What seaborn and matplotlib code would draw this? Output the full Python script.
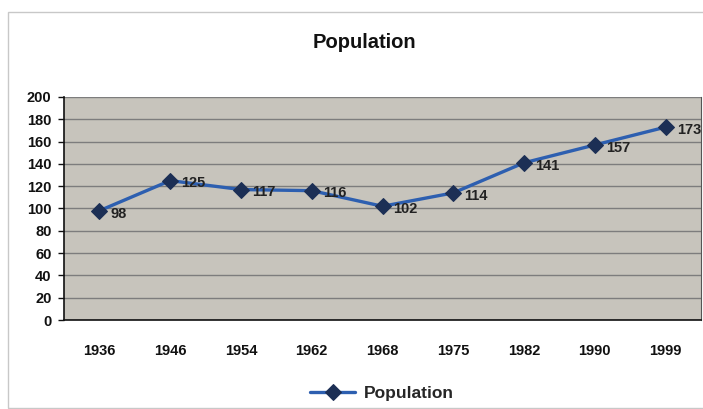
import matplotlib
matplotlib.use("Agg")
import matplotlib.pyplot as plt
import seaborn as sns
import pandas as pd
from matplotlib.patches import Rectangle

years = ["1936", "1946", "1954", "1962", "1968", "1975", "1982", "1990", "1999"]
population = [98, 125, 117, 116, 102, 114, 141, 157, 173]

sns.set_style("white")
plt.rcParams['font.family'] = ['Liberation Sans', 'DejaVu Sans']

df = pd.DataFrame({"Year": years, "Population": population})

fig = plt.figure(figsize=(7.03, 4.09), dpi=100)
fig.patches.append(Rectangle((8 / 703, 1 / 409), 1.2, 396 / 409, transform=fig.transFigure,
                             fill=False, edgecolor="#c8c8c8", linewidth=1.0))
ax = fig.add_axes([64 / 703, 1 - 320 / 409, 637 / 703, 223 / 409])
ax.set_facecolor("#c7c4bc")

sns.lineplot(data=df, x="Year", y="Population", ax=ax, color="#2d5fb0", linewidth=2.4,
             marker="D", markersize=8, markerfacecolor="#1c2f55", markeredgecolor="#1c2f55",
             label="Population")

for i, v in enumerate(population):
    ax.annotate(str(v), (i, v), xytext=(8, -2), textcoords="offset points",
                ha="left", va="center", fontsize=10.5, fontweight="bold", color="#222222")

ax.set_xlim(-0.5, len(years) - 0.5)
ax.set_ylim(0, 200)
ax.set_yticks(range(0, 201, 20))
ax.yaxis.grid(True, color="#7d7d7d", linewidth=1.0)
ax.set_axisbelow(True)
ax.set_xlabel("")
ax.set_ylabel("")
ax.tick_params(axis="both", labelsize=10.5, colors="#111111")
for lab in ax.get_xticklabels() + ax.get_yticklabels():
    lab.set_fontweight("bold")
ax.tick_params(axis="x", pad=17, length=0)
ax.tick_params(axis="y", left=True, length=4, width=1, pad=5)
ax.spines["top"].set_visible(False)
ax.spines["right"].set_color("#555555")
ax.spines["left"].set_color("#111111")
ax.spines["bottom"].set_color("#111111")
ax.spines["left"].set_linewidth(1.2)
ax.spines["bottom"].set_linewidth(1.2)

fig.text(364 / 703, 1 - 42 / 409, "Population", fontsize=14.5, fontweight="bold",
         ha="center", va="center", color="#111111")

ax.legend_.remove()
handles, labels = ax.get_legend_handles_labels()
fig.legend(handles, labels, loc="center", bbox_to_anchor=(382 / 703, 1 - 393 / 409),
           frameon=False, prop={"weight": "bold", "size": 12.5}, handlelength=2.6,
           handletextpad=0.5)

fig.savefig("out.png", dpi=100)
